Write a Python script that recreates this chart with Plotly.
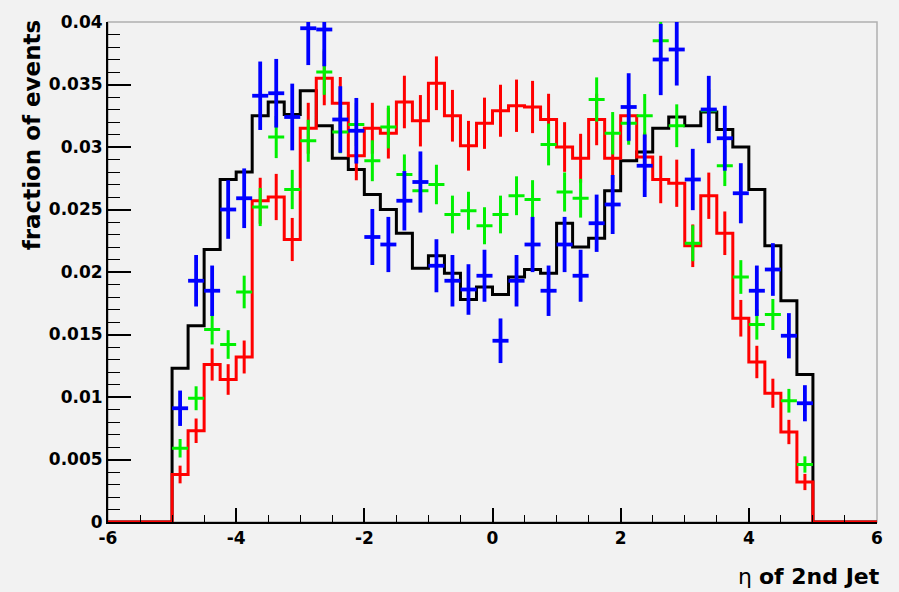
import numpy as np
import plotly.graph_objects as go

# Binning: 48 bins of width 0.25 over [-6, 6]; only [-5, 5] is populated
bin_lo, bin_hi, bin_w = -6.0, 6.0, 0.25
filled_lo, filled_hi = -5.0, 5.0

# Fraction of events per bin in [-5, 5] (40 bins)
black_vals = [0.0123, 0.0157, 0.0218, 0.0274, 0.0280, 0.0325, 0.0336, 0.0326,
              0.0345, 0.0317, 0.0291, 0.0282, 0.0262, 0.0250, 0.0231, 0.0203,
              0.0213, 0.0199, 0.0178, 0.0188, 0.0182, 0.0196, 0.0202, 0.0199,
              0.0239, 0.0220, 0.0227, 0.0265, 0.0289, 0.0296, 0.0315, 0.0324,
              0.0317, 0.0328, 0.0314, 0.0300, 0.0266, 0.0221, 0.0177, 0.0118]

red_vals = [0.0038, 0.0073, 0.0126, 0.0114, 0.0132, 0.0257, 0.0260, 0.0226,
            0.0315, 0.0355, 0.0335, 0.0293, 0.0315, 0.0311, 0.0336, 0.0321,
            0.0351, 0.0325, 0.0301, 0.0319, 0.0329, 0.0333, 0.0332, 0.0322,
            0.0300, 0.0291, 0.0322, 0.0291, 0.0325, 0.0292, 0.0274, 0.0271,
            0.0221, 0.0261, 0.0231, 0.0163, 0.0128, 0.0103, 0.0072, 0.0032]

blue_vals = [0.0091, 0.0193, 0.0185, 0.0250, 0.0259, 0.0341, 0.0343, 0.0324,
             0.0395, 0.0394, 0.0322, 0.0313, 0.0228, 0.0222, 0.0257, 0.0272,
             0.0205, 0.0193, 0.0186, 0.0197, 0.0145, 0.0193, 0.0222, 0.0185,
             0.0222, 0.0197, 0.0239, 0.0254, 0.0332, 0.0285, 0.0370, 0.0378,
             0.0274, 0.0330, 0.0307, 0.0263, 0.0185, 0.0202, 0.0149, 0.0095]

green_vals = [0.0059, 0.0099, 0.0154, 0.0142, 0.0184, 0.0252, 0.0308, 0.0266,
              0.0305, 0.0360, 0.0312, 0.0318, 0.0289, 0.0316, 0.0278, 0.0265,
              0.0270, 0.0246, 0.0249, 0.0237, 0.0246, 0.0261, 0.0258, 0.0302,
              0.0264, 0.0259, 0.0338, 0.0311, 0.0319, 0.0325, 0.0385, 0.0317,
              0.0223, 0.0329, 0.0285, 0.0196, 0.0158, 0.0166, 0.0097, 0.0046]

# Number of entries behind each normalised histogram (for Poisson errors)
n_red, n_blue, n_green = 7600, 4550, 10800

x_tickvals = [-6, -4, -2, 0, 2, 4, 6]
x_ticktext = ["-6", "-4", "-2", "0", "2", "4", "6"]
y_tickvals = [0, 0.005, 0.01, 0.015, 0.02, 0.025, 0.03, 0.035, 0.04]
y_ticktext = ["0", "0.005", "0.01", "0.015", "0.02", "0.025", "0.03", "0.035", "0.04"]

FONT = "DejaVu Sans"
BG = "#f2f2f2"
RED, GREEN, BLUE = "#ff0000", "#00f000", "#0000ff"

n_bins = int(round((bin_hi - bin_lo) / bin_w))
edges = np.linspace(bin_lo, bin_hi, n_bins + 1)
n_pad = int(round((filled_lo - bin_lo) / bin_w))
centers = 0.5 * (edges[n_pad:-n_pad - 1] + edges[n_pad + 1:len(edges) - n_pad])


def full_hist(vals):
    return np.concatenate([np.zeros(n_pad), np.asarray(vals), np.zeros(n_pad)])


def step_xy(vals):
    h = full_hist(vals)
    return np.append(edges[:-1], edges[-1]), np.append(h, h[-1])


def poisson_err(vals, n):
    v = np.asarray(vals)
    return np.sqrt(v * n) / n


fig = go.Figure()

# Black histogram (no errors)
bx, by = step_xy(black_vals)
fig.add_trace(go.Scatter(x=bx, y=by, mode="lines", line=dict(color="black", width=3, shape="hv"),
                         hoverinfo="skip", showlegend=False))

# Red histogram with vertical error bars
rx, ry = step_xy(red_vals)
fig.add_trace(go.Scatter(x=rx, y=ry, mode="lines", line=dict(color=RED, width=3, shape="hv"),
                         hoverinfo="skip", showlegend=False))
fig.add_trace(go.Scatter(x=centers, y=red_vals, mode="markers",
                         marker=dict(size=1, color=RED),
                         error_y=dict(type="data", array=poisson_err(red_vals, n_red),
                                      color=RED, thickness=3, width=0),
                         showlegend=False))

# Green points: full-bin horizontal bars with vertical errors
fig.add_trace(go.Scatter(x=centers, y=green_vals, mode="markers",
                         marker=dict(size=1, color=GREEN),
                         error_x=dict(type="constant", value=bin_w / 2, color=GREEN, thickness=3, width=0),
                         error_y=dict(type="data", array=poisson_err(green_vals, n_green),
                                      color=GREEN, thickness=3, width=0),
                         showlegend=False))

# Blue points
fig.add_trace(go.Scatter(x=centers, y=blue_vals, mode="markers",
                         marker=dict(size=1, color=BLUE),
                         error_x=dict(type="constant", value=bin_w / 2, color=BLUE, thickness=3.8, width=0),
                         error_y=dict(type="data", array=poisson_err(blue_vals, n_blue),
                                      color=BLUE, thickness=3.8, width=0),
                         showlegend=False))

tickfont = dict(family=FONT, size=17, color="black", weight="bold")

fig.update_xaxes(range=[bin_lo, bin_hi], tickvals=x_tickvals, ticktext=x_ticktext,
                 ticks="inside", ticklen=14, tickwidth=1.5, tickcolor="black",
                 minor=dict(dtick=0.5, ticks="inside", ticklen=7, tickwidth=1.2, tickcolor="black"),
                 showline=True, linecolor="black", linewidth=2, mirror=False,
                 showgrid=False, zeroline=False, tickfont=tickfont)
fig.update_yaxes(range=[0, 0.04], tickvals=y_tickvals, ticktext=y_ticktext,
                 ticks="inside", ticklen=23, tickwidth=1.5, tickcolor="black",
                 minor=dict(dtick=0.001, ticks="inside", ticklen=12, tickwidth=1.2, tickcolor="black"),
                 showline=True, linecolor="black", linewidth=2, mirror=False,
                 showgrid=False, zeroline=False, tickfont=tickfont)

# Light frame on top and right
fig.add_shape(type="rect", xref="paper", yref="paper", x0=0, x1=1, y0=0, y1=1,
              line=dict(color="#b0b0b0", width=1.5), layer="below")

fig.add_annotation(text="fraction of events", textangle=-90, xref="paper", yref="paper",
                   x=-0.099, y=1.01, xanchor="center", yanchor="top", showarrow=False,
                   font=dict(family=FONT, size=23, color="black", weight="bold"))
fig.add_annotation(text="η <b>of 2nd Jet</b>", xref="paper", yref="paper",
                   x=1.006, y=-0.108, xanchor="right", yanchor="middle", showarrow=False,
                   font=dict(family=FONT, size=22, color="black"))

fig.update_layout(width=899, height=592, margin=dict(l=108, r=22, t=15, b=70),
                  paper_bgcolor=BG, plot_bgcolor=BG)

fig.write_html("out.html")
